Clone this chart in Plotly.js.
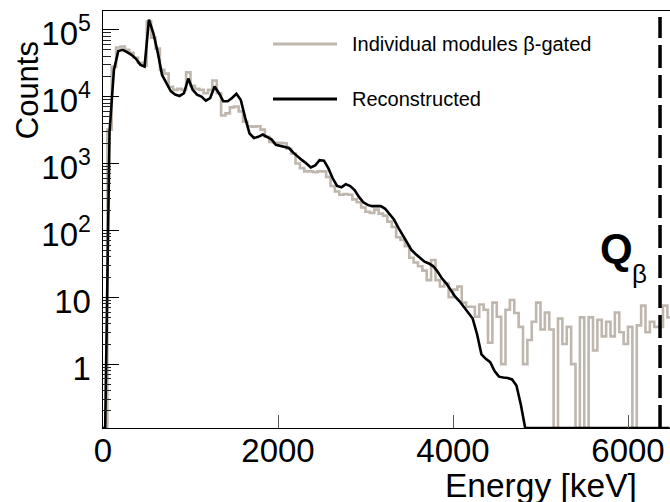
<!DOCTYPE html>
<html>
<head>
<meta charset="utf-8">
<script src="https://cdn.plot.ly/plotly-3.0.1.min.js"></script>
<style>
html,body{margin:0;padding:0;background:#fff;}
#chart{width:670px;height:502px;}
</style>
</head>
<body>
<div id="chart"></div>
<script>
// ---- data ----
const BIN_WIDTH = 50;          // keV per bin, bins start at 0 keV
const Q_BETA = 6366;           // keV, dashed Q-beta line

// Reconstructed spectrum (counts per 50 keV bin from 0 keV)
const reconstructed = [
  0, 3000, 25000, 48000, 50000, 46000, 42000, 37000, 30000, 28000,
  141000, 89000, 46000, 21000, 16000, 12000, 10700, 10200, 11200, 18600,
  12600, 10700, 10000, 8700, 9500, 14100, 11200, 8500, 8500, 9500,
  11000, 8900, 4800, 2800, 2400, 2500, 2700, 2500, 2300, 1900,
  1820, 1780, 1700, 1450, 1260, 1120, 1000, 870, 930, 1120,
  1100, 850, 600, 460, 440, 490, 460, 400, 316, 263,
  240, 230, 230, 230, 210, 174, 145, 110, 85, 63,
  51, 44, 38, 34, 32, 29, 24, 19, 16, 12.6,
  10.2, 8.7, 7.2, 6.0, 4.8, 2.8, 1.4, 1.2, 1.07, 0.79,
  0.65, 0.63, 0.62, 0.59, 0.48, 0.25, 0, 0, 0, 0,
  0, 0, 0, 0, 0, 0, 0, 0, 0, 0,
  0, 0, 0, 0, 0, 0, 0, 0, 0, 0,
  0, 0, 0, 0, 0, 0, 0, 0, 0, 0
];

// Individual modules beta-gated spectrum (counts per 50 keV bin from 0 keV)
const individual = [
  0, 3200, 28000, 54000, 56000, 50000, 45000, 38000, 32000, 29000,
  132000, 76000, 52000, 25000, 22000, 14000, 12600, 13000, 12600, 23000,
  14500, 13000, 12600, 11200, 12600, 17400, 11200, 5200, 5600, 6900,
  7100, 6000, 4200, 3600, 3550, 3600, 3200, 2500, 2100, 2040,
  2040, 2000, 1660, 1410, 1000, 850, 760, 760, 740, 760,
  760, 630, 460, 380, 340, 350, 340, 290, 263, 220,
  190, 182, 204, 178, 166, 135, 112, 79, 72, 58,
  39, 33, 29, 25, 18, 36, 18, 14.5, 16, 10,
  13, 14.5, 8.3, 7.2, 7.2, 5.1, 7.8, 6.5, 2.1, 8.3,
  5.1, 1, 6.5, 9.1, 5.8, 3.6, 1, 2.3, 4.3, 8.3,
  3.3, 5.9, 3.3, 0, 4.8, 2.0, 3.6, 1.0, 0, 5,
  0, 5, 1.6, 4.6, 2.6, 4.3, 2.6, 5.9, 3.0, 2.0,
  3.6, 0, 3.8, 7.5, 3.0, 4.3, 3.6, 3.6, 7.5, 5
];

const seriesNames = ["Individual modules \u03b2-gated", "Reconstructed"];
const xTickVals = [0, 2000, 4000, 6000];
const xTickText = ["0", "2000", "4000", "6000"];
const yTickVals = [1, 10, 100, 1000, 10000, 100000];
const yTickText = ["1", "10", "10<sup>2</sup>", "10<sup>3</sup>", "10<sup>4</sup>", "10<sup>5</sup>"];

// ---- drawing ----
const Y_MIN = 0.111, Y_MAX = 1.9e5;
const FLOOR = Y_MIN; // empty bins are drawn on the bottom of the frame (ROOT style)
function stepTrace(counts, color, width) {
  const x = [], y = [];
  for (let i = 0; i < counts.length; i++) {
    x.push(i * BIN_WIDTH);
    y.push(counts[i] > 0 ? counts[i] : FLOOR);
  }
  x.push(counts.length * BIN_WIDTH);
  y.push(counts[counts.length - 1] > 0 ? counts[counts.length - 1] : FLOOR);
  return {x, y, type: "scatter", mode: "lines", line: {shape: "hv", color, width}, hoverinfo: "skip"};
}
function smoothTrace(counts, color, width) {
  const x = [0], y = [FLOOR];
  for (let i = 0; i < counts.length; i++) {
    x.push((i + 0.5) * BIN_WIDTH);
    y.push(counts[i] > 0 ? counts[i] : FLOOR);
  }
  return {x, y, type: "scatter", mode: "lines", line: {shape: "linear", color, width}, hoverinfo: "skip"};
}
const GRAY = "#bfb7ad";
const traces = [
  Object.assign(stepTrace(individual, GRAY, 2.6), {name: seriesNames[0]}),
  Object.assign(smoothTrace(reconstructed, "#000000", 2.6), {name: seriesNames[1]})
];
const minorVals = [];
for (let d = -1; d <= 5; d++) for (let m = 2; m <= 9; m++) minorVals.push(m * Math.pow(10, d));

const FONT = "Liberation Sans, Arial, Helvetica, sans-serif";
const layout = {
  width: 670, height: 502,
  margin: {l: 103, r: 0, t: 11, b: 74, pad: 0},
  paper_bgcolor: "#ffffff", plot_bgcolor: "#ffffff",
  showlegend: false,
  font: {family: FONT, color: "#000000"},
  xaxis: {
    range: [0, 6480], tickmode: "array", tickvals: xTickVals, ticktext: xTickText,
    ticks: "inside", ticklen: 13, tickwidth: 1, tickcolor: "#555555",
    showline: true, linecolor: "#000000", linewidth: 1, mirror: true,
    showgrid: false, zeroline: false, tickfont: {size: 33, family: FONT},
    ticklabelstandoff: -7
  },
  yaxis: {
    type: "log", range: [Math.log10(Y_MIN), Math.log10(Y_MAX)],
    tickmode: "array", tickvals: yTickVals, ticktext: yTickText,
    ticks: "inside", ticklen: 16, tickwidth: 1, tickcolor: "#000000",
    minor: {tickmode: "array", tickvals: minorVals, ticks: "inside", ticklen: 8, tickwidth: 1, tickcolor: "#222222", showgrid: false},
    showline: true, linecolor: "#000000", linewidth: 1.5,
    showgrid: false, zeroline: false, tickfont: {size: 33, family: FONT},
    ticklabelstandoff: 4, ticklabelshift: 4
  },
  shapes: [
    {type: "line", xref: "paper", yref: "paper", x0: 0.2998, x1: 0.4127, y0: 0.921, y1: 0.921, line: {color: GRAY, width: 3}},
    {type: "line", xref: "paper", yref: "paper", x0: 0.2998, x1: 0.4127, y0: 0.789, y1: 0.789, line: {color: "#000000", width: 3}},
    {type: "line", xref: "x", yref: "paper", x0: Q_BETA, x1: Q_BETA, y0: 0, y1: 0.9856, line: {color: "#000000", width: 3.5, dash: "23px,7px"}}
  ],
  annotations: [
    {text: "Counts", xref: "paper", yref: "paper", x: -0.134, y: 0.81, xanchor: "center", yanchor: "middle", textangle: -90, showarrow: false, font: {size: 31, family: FONT}},
    {text: "Energy [keV]", xref: "paper", yref: "paper", x: 0.945, y: -0.138, xanchor: "right", yanchor: "middle", showarrow: false, font: {size: 33.5, family: FONT}},
    {text: seriesNames[0], xref: "paper", yref: "paper", x: 0.4356, y: 0.921, xanchor: "left", yanchor: "middle", showarrow: false, font: {size: 20, family: FONT}},
    {text: seriesNames[1], xref: "paper", yref: "paper", x: 0.4356, y: 0.789, xanchor: "left", yanchor: "middle", showarrow: false, font: {size: 20, family: FONT}},
    {text: "<b>Q</b>", xref: "paper", yref: "paper", x: 0.905, y: 0.43, xanchor: "center", yanchor: "middle", showarrow: false, font: {size: 42, family: FONT}},
    {text: "\u03b2", xref: "paper", yref: "paper", x: 0.947, y: 0.37, xanchor: "center", yanchor: "middle", showarrow: false, font: {size: 26, family: FONT}}
  ]
};
Plotly.newPlot("chart", traces, layout, {staticPlot: true, displayModeBar: false});
</script>
</body>
</html>
